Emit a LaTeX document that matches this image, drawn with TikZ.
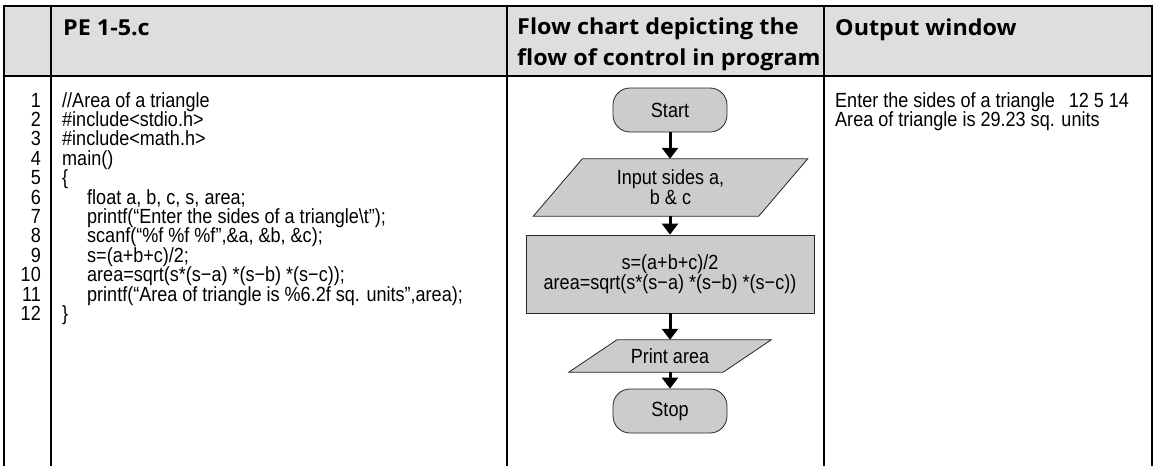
\documentclass[tikz,border=0pt]{standalone}
\usepackage{fontspec}
\setmainfont{Liberation Sans}
\newfontfamily\codefont[FakeStretch=0.88]{Liberation Sans}
\newfontfamily\headfont[FakeStretch=1.06]{Open Sans}
\usetikzlibrary{arrows.meta,backgrounds}
\definecolor{headgray}{HTML}{DEDEDE}
\definecolor{boxgray}{HTML}{CCCCCC}
\begin{document}
\begin{tikzpicture}[x=1pt,y=-1pt,
  rule/.style={line width=2pt,black},
  headtext/.style={anchor=base west,inner sep=0pt,font=\headfont\bfseries\fontsize{22}{30}\selectfont},
  codeline/.style={anchor=base west,inner sep=0pt,font=\codefont\fontsize{20.5}{19.4}\selectfont},
  lnum/.style={anchor=base east,inner sep=0pt,font=\codefont\fontsize{20.5}{19.4}\selectfont},
  flowtext/.style={font=\codefont\fontsize{20.5}{19}\selectfont,align=center,inner sep=0pt},
  shapeline/.style={draw=black!85,line width=0.8pt,fill=boxgray},
  terminal/.style={flowtext,shapeline,rounded corners=17pt,minimum width=114pt,minimum height=44pt},
  process/.style={flowtext,shapeline,minimum width=288pt,minimum height=78pt},
  io/.style={flowtext},
  flowarrow/.style={line width=3pt,-{Triangle[width=16pt,length=11pt]}},
]
\useasboundingbox (0,0) rectangle (1155,466);
\begin{scope}[on background layer]
  \fill[white] (0,0) rectangle (1155,466);
\end{scope}

% header band
\fill[headgray] (4,6) rectangle (1152,76);

% table rules
\draw[rule] (3,6) -- (1153,6);
\draw[rule] (3,76) -- (1153,76);
\foreach \x in {4,51,507,824,1152} \draw[rule] (\x,6) -- (\x,466);

% column headings
\node[headtext] (hcode) at (63,35) {PE 1-5.c};
\node[headtext] (hflow1) at (517,34) {Flow chart depicting the};
\node[headtext] (hflow2) at (517,65) {flow of control in program};
\node[headtext] (hout) at (835,35) {Output window};

% line numbers
\foreach \i in {1,...,12}
  \node[lnum] (n\i) at (41,{107+19.4*(\i-1)}) {\i};

% program listing
\node[codeline] (c1)  at (62,107.0) {//Area of a triangle};
\node[codeline] (c2)  at (62,126.4) {\#include<stdio.h>};
\node[codeline] (c3)  at (62,145.8) {\#include<math.h>};
\node[codeline] (c4)  at (62,165.2) {main()};
\node[codeline] (c5)  at (62,184.6) {\{};
\node[codeline] (c6)  at (87,204.0) {float a, b, c, s, area;};
\node[codeline] (c7)  at (87,223.4) {printf(“Enter the sides of a triangle\textbackslash t”);};
\node[codeline] (c8)  at (87,242.8) {scanf(“\%f \%f \%f”,\&a, \&b, \&c);};
\node[codeline] (c9)  at (87,262.2) {s=(a+b+c)/2;};
\node[codeline] (c10) at (87,281.6) {area=sqrt(s*(s−a) *(s−b) *(s−c));};
\node[codeline] (c11) at (87,301.0) {printf(“Area of triangle is \%6.2f sq. units”,area);};
\node[codeline] (c12) at (62,320.4) {\}};

% flow chart
\node[terminal] (start) at (670,110) {Start};
\node[io,minimum width=225pt,minimum height=57pt] (input) at (670.5,187.5) {Input sides a,\\b \& c};
\node[process] (calc) at (670,274) {s=(a+b+c)/2\\area=sqrt(s*(s−a) *(s−b) *(s−c))};
\node[io,minimum width=154pt,minimum height=32pt] (print) at (670,356) {Print area};
\node[terminal] (stop) at (670,411) {Stop};

\begin{scope}[on background layer]
  \draw[shapeline] ([xshift=24.5pt]input.north west) -- ([xshift=24.5pt]input.north east)
    -- ([xshift=-24.5pt]input.south east) -- ([xshift=-24.5pt]input.south west) -- cycle;
  \draw[shapeline] ([xshift=24pt]print.north west) -- ([xshift=24pt]print.north east)
    -- ([xshift=-24pt]print.south east) -- ([xshift=-24pt]print.south west) -- cycle;
\end{scope}

\draw[flowarrow] (start.south) -- (start.south |- input.north);
\draw[flowarrow] (input.south -| calc.north) -- (calc.north);
\draw[flowarrow] (calc.south) -- (print.north);
\draw[flowarrow] (print.south) -- (stop.north);

% program output
\node[codeline] (o1) at (835,107.0) {Enter the sides of a triangle\hspace{14pt}12 5 14};
\node[codeline] (o2) at (835,126.4) {Area of triangle is 29.23 sq. units};
\end{tikzpicture}
\end{document}
